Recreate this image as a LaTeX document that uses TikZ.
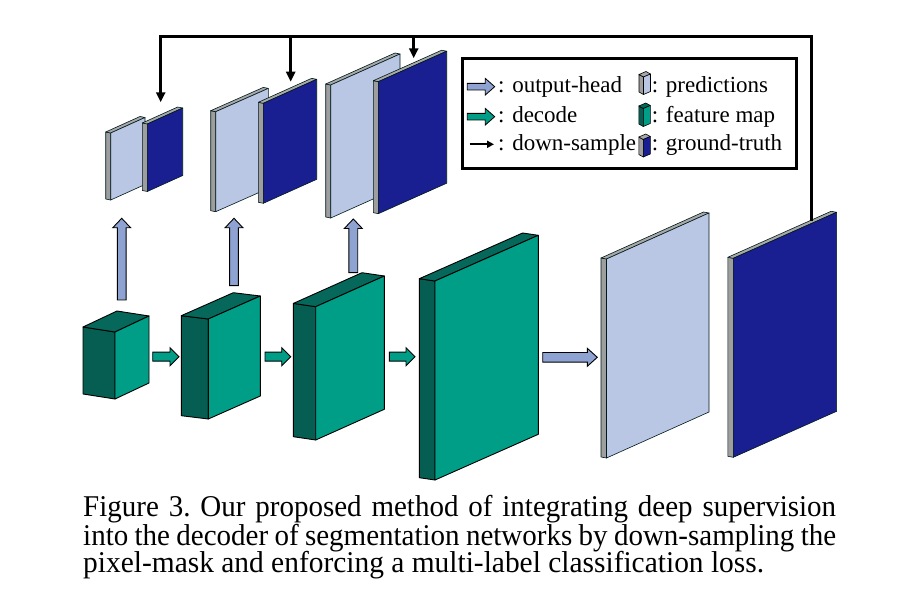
\documentclass[tikz,border=0pt]{standalone}
\usepackage{fontspec}
\setmainfont{Liberation Serif}
\usetikzlibrary{arrows.meta,calc}
\definecolor{fmF}{RGB}{0,158,135}
\definecolor{fmS}{RGB}{6,94,82}
\definecolor{fmT}{RGB}{5,104,90}
\definecolor{prF}{RGB}{185,199,228}
\definecolor{prS}{RGB}{158,158,158}
\definecolor{prT}{RGB}{168,168,168}
\definecolor{gtF}{RGB}{25,31,145}
\definecolor{gtS}{RGB}{158,158,158}
\definecolor{gtT}{RGB}{168,168,168}
\definecolor{headC}{RGB}{142,163,209}
\newcommand{\legfont}{\fontsize{23}{24}\selectfont}
\newcommand{\capfont}{\fontsize{29}{28}\selectfont\frenchspacing}
% [opts]{name}{Px,Py}{wx}{wy}{h}{dx}{dy}{colour prefix}
\newcommand{\slab}[9][]{%
  \coordinate (#2) at (#3);
  \begin{scope}[line join=round,#1]
    \filldraw[fill=#9S] (#2) -- ++({-(#7)},{-(#8)}) -- ++(0,#6) -- ++(#7,#8) -- cycle;
    \filldraw[fill=#9T] (#2) -- ++({-(#7)},{-(#8)}) -- ++(#4,#5) -- ++(#7,#8) -- cycle;
    \filldraw[fill=#9F] (#2) -- ++(#4,#5) -- ++(0,#6) -- ++({-(#4)},{-(#5)}) -- cycle;
  \end{scope}}
% {start coordinate}{angle}{length}{fill}{half shaft}{half head}{head length}{line width}
\newcommand{\blockarrow}[8]{%
  \begin{scope}[shift={(#1)},rotate=#2]
    \filldraw[fill=#4,line width=#8,line join=miter]
      (0,#5) -- ({#3-#7},#5) -- ({#3-#7},#6) -- (#3,0) -- ({#3-#7},{-#6})
      -- ({#3-#7},{-#5}) -- (0,{-#5}) -- cycle;
  \end{scope}}
\tikzset{
  boxline/.style={line width=0.9pt,draw=black},
  plateline/.style={line width=0.6pt,draw=black!80!teal},
  dsline/.style={line width=2.6pt,line join=miter,-{Triangle[length=10pt,width=9pt]}},
}
\begin{document}
\begin{tikzpicture}[x=1pt,y=-1pt]
\fill[white] (0,0) rectangle (898,604);
\useasboundingbox (0,0) rectangle (898,604);

% ---- top row: predictions and ground-truth plates
\slab[plateline]{pred1}{110.7,133}{34.3}{-15.5}{67}{5}{1}{pr}
\slab[plateline]{gt1}{147.3,124}{35.4}{-16}{67.5}{5}{1}{gt}
\slab[plateline]{pred2}{215.7,111.7}{52.6}{-23.3}{100}{5}{1}{pr}
\slab[plateline]{gt2}{263.3,103.3}{53.4}{-24}{100}{5}{1}{gt}
\slab[plateline]{pred3}{330.7,85}{69.3}{-31}{133}{5}{1}{pr}
\slab[plateline]{gt3}{378.3,81.7}{68.4}{-30.5}{132}{5}{1}{gt}

% ---- feature maps
\slab[boxline]{b1}{115,332}{34}{-16}{67}{32}{5}{fm}
\slab[boxline]{b2}{208.3,319}{52}{-23}{100}{27}{3.3}{fm}
\slab[boxline]{b3}{315.7,306.7}{68.6}{-30.7}{133.3}{22.3}{3.3}{fm}
\slab[boxline]{b4}{435,281}{103.3}{-45.7}{199}{15.7}{2.3}{fm}

% ---- final prediction and ground truth
\slab[plateline]{predB}{606.5,259}{102.5}{-46}{199}{5.5}{1}{pr}
\slab[plateline]{gtB}{733.3,258.3}{103.3}{-46}{199}{5.5}{1}{gt}

% ---- output-head arrows (up)
\coordinate (u1) at (121.7,300);
\coordinate (u2) at (234,285.7);
\coordinate (u3) at (353.3,272.7);
\blockarrow{u1}{90}{81.7}{headC}{4.4}{9}{9.5}{0.9pt}
\blockarrow{u2}{90}{67.4}{headC}{4.4}{9}{9.5}{0.9pt}
\blockarrow{u3}{90}{53.7}{headC}{4.4}{9}{9.5}{0.9pt}

% ---- decode arrows
\coordinate (r1) at (152.7,356.7);
\coordinate (r2) at (265,356.7);
\coordinate (r3) at (389.3,356.7);
\blockarrow{r1}{0}{26.3}{fmF}{4.5}{9}{9}{0.9pt}
\blockarrow{r2}{0}{25.7}{fmF}{4.5}{9}{9}{0.9pt}
\blockarrow{r3}{0}{25.7}{fmF}{4.5}{9}{9}{0.9pt}

% ---- output head to final prediction
\coordinate (oh) at (542.7,357.3);
\blockarrow{oh}{0}{54.6}{headC}{4.8}{9}{10}{0.9pt}

% ---- down-sample connectors
\coordinate (gtBtop) at (811.7,221);
\coordinate (cR) at (811.7,36.7);
\coordinate (cL) at (160.7,36.7);
\coordinate (j2) at (290.7,36.7);
\coordinate (j3) at (413.7,36.7);
\coordinate (t1) at (160.7,102.3);
\coordinate (t2) at (290.7,81.7);
\coordinate (t3) at (413.7,58.3);
\draw[dsline] (gtBtop) -- (cR) -- (cL) -- (t1);
\draw[dsline] (j2) -- (t2);
\draw[dsline] (j3) -- (t3);

% ---- legend
\draw[line width=3pt] (462.5,58.5) rectangle (796.5,169);
\coordinate (la1) at (467.3,86.7);
\coordinate (la2) at (467.3,116.7);
\blockarrow{la1}{0}{27.4}{headC}{3.3}{8.3}{9.4}{0.8pt}
\blockarrow{la2}{0}{27.4}{fmF}{3.3}{8.3}{9.4}{0.8pt}
\coordinate (la3s) at (469.7,144.3);
\coordinate (la3e) at (494,144.3);
\draw[line width=1.8pt,-{Triangle[length=7pt,width=7pt]}] (la3s) -- (la3e);
\slab[line width=0.6pt]{lp}{643.5,77}{7}{-3}{17.5}{4.5}{2.5}{pr}
\slab[line width=0.6pt]{lf}{643.3,108.5}{7}{-3}{18}{4.5}{2.5}{fm}
\slab[line width=0.6pt]{lg}{643.3,139.5}{7}{-3}{17.5}{4.5}{2.5}{gt}
\node[anchor=base west,inner sep=0] (t1l) at (498,93) {\legfont: output-head};
\node[anchor=base west,inner sep=0] (t2l) at (498,122.5) {\legfont: decode};
\node[anchor=base west,inner sep=0] (t3l) at (498,150.5) {\legfont: down-sample};
\node[anchor=base west,inner sep=0] (t4l) at (651.7,93) {\legfont: predictions};
\node[anchor=base west,inner sep=0] (t5l) at (651.7,122.5) {\legfont: feature map};
\node[anchor=base west,inner sep=0] (t6l) at (651.7,150.5) {\legfont: ground-truth};

% ---- caption
\node[anchor=base west,inner sep=0] (cap1) at (83,516.7) {\capfont\scalebox{1}[1.04]{\makebox[753pt][s]{Figure 3. Our proposed method of integrating deep supervision}}};
\node[anchor=base west,inner sep=0] (cap2) at (83,545) {\capfont\scalebox{1}[1.04]{\makebox[753pt][s]{into the decoder of segmentation networks by down-sampling the}}};
\node[anchor=base west,inner sep=0] (cap3) at (83,572.7) {\capfont\scalebox{1.015}[1.04]{pixel-mask and enforcing a multi-label classification loss.}};
\end{tikzpicture}
\end{document}
